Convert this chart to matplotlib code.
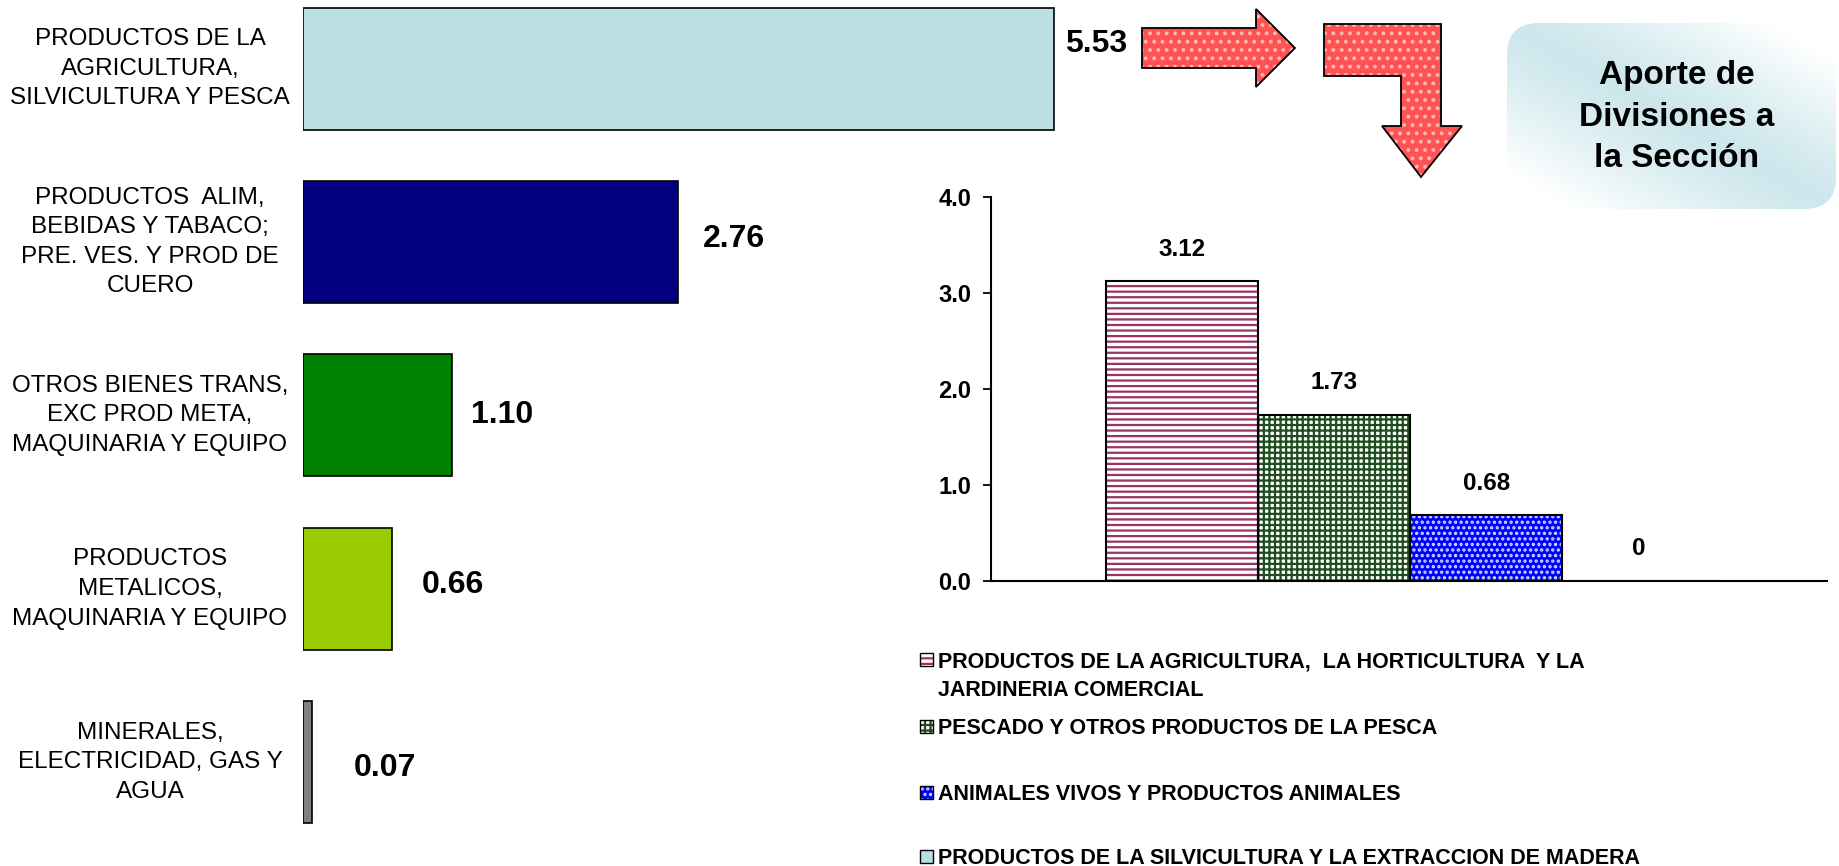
import numpy as np
import matplotlib
matplotlib.use('Agg')
import matplotlib.pyplot as plt
from matplotlib.patches import Polygon, Rectangle, FancyBboxPatch

# ---------------- data ----------------
left_categories = [
    "PRODUCTOS DE LA\nAGRICULTURA,\nSILVICULTURA Y PESCA",
    "PRODUCTOS  ALIM,\nBEBIDAS Y TABACO;\nPRE. VES. Y PROD DE\nCUERO",
    "OTROS BIENES TRANS,\nEXC PROD META,\nMAQUINARIA Y EQUIPO",
    "PRODUCTOS\nMETALICOS,\nMAQUINARIA Y EQUIPO",
    "MINERALES,\nELECTRICIDAD, GAS Y\nAGUA",
]
left_values = [5.53, 2.76, 1.10, 0.66, 0.07]
left_value_labels = ["5.53", "2.76", "1.10", "0.66", "0.07"]

right_categories = [
    "PRODUCTOS DE LA AGRICULTURA,  LA HORTICULTURA  Y LA\nJARDINERIA COMERCIAL",
    "PESCADO Y OTROS PRODUCTOS DE LA PESCA",
    "ANIMALES VIVOS Y PRODUCTOS ANIMALES",
    "PRODUCTOS DE LA SILVICULTURA Y LA EXTRACCION DE MADERA",
]
right_values = [3.12, 1.73, 0.68, 0]
right_value_labels = ["3.12", "1.73", "0.68", "0"]
right_yticks = [0.0, 1.0, 2.0, 3.0, 4.0]
right_ytick_labels = ["0.0", "1.0", "2.0", "3.0", "4.0"]

title_text = "Aporte de\nDivisiones a\nla Sección"

# ---------------- styles ----------------
left_colors = ["#BBE0E3", "#000080", "#008000", "#99CC00", "#808080"]
left_label_dx = [11, 25, 19, 29, 42]      # pixel offsets of value labels
left_label_dy = [25, 3, 0, 4, -6]

right_faces = ["white", "white", "#0000FF", "#BBE0E3"]
right_hatch_colors = ["#993366", "#1E4D1E", "#CCE0FF", "#BBE0E3"]
right_hatches = ["---", "+++", "...", None]

plt.rcParams['font.family'] = ['Liberation Sans', 'DejaVu Sans']
plt.rcParams['hatch.linewidth'] = 1.6

W, H = 1839, 866
fig = plt.figure(figsize=(W / 100, H / 100), dpi=100)
fig.patch.set_facecolor('white')

# ---------------- overlay (decorations) ----------------
ov = fig.add_axes([0, 0, 1, 1], zorder=0)
ov.set_xlim(0, W)
ov.set_ylim(H, 0)
ov.axis('off')

# arrows
right_arrow = [(1142, 28), (1256, 28), (1256, 9), (1295, 48), (1256, 87),
               (1256, 68), (1142, 68)]
bent_arrow = [(1324, 24), (1441, 24), (1441, 126), (1462, 126), (1421, 177),
              (1382, 126), (1401, 126), (1401, 76), (1324, 76)]
for pts in (right_arrow, bent_arrow):
    ov.add_patch(Polygon(pts, closed=True, facecolor='#FF5252',
                         edgecolor='#FFB8B8', hatch='..', linewidth=0))
    ov.add_patch(Polygon(pts, closed=True, fill=False, edgecolor='black',
                         linewidth=1.3))

# rounded gradient box
box = FancyBboxPatch((1507, 23), 329, 186,
                     boxstyle='round,pad=0,rounding_size=32',
                     facecolor='none', edgecolor='none')
ov.add_patch(box)
nx, ny = 200, 120
u = np.linspace(0, 1, nx)[None, :]
v = np.linspace(0, 1, ny)[:, None]
w = np.clip(np.abs(u - v) * 1.25, 0, 1) ** 1.2
edge = np.array([0.80, 0.905, 0.925])
img = w[..., None] * np.ones(3) + (1 - w[..., None]) * edge
im = ov.imshow(img, extent=[1507, 1836, 209, 23], aspect='auto',
               interpolation='bilinear')
im.set_clip_path(box)
ov.set_xlim(0, W)
ov.set_ylim(H, 0)
ov.text(1677, 117, title_text, ha='center', va='center', fontsize=24,
        fontweight='bold', linespacing=1.45, multialignment='center')

# ---------------- left chart ----------------
axL = fig.add_axes([302.6 / W, 1 - 849 / H, (6 * 135.9) / W, 846.3 / H],
                   zorder=2)
axL.patch.set_alpha(0)
yl = np.arange(len(left_values))
axL.barh(yl, left_values, height=0.703, color=left_colors,
         edgecolor='black', linewidth=1.2)
axL.set_xlim(0, 6)
axL.set_ylim(4.5, -0.38)
axL.axis('off')
for yi, lab in zip(yl, left_categories):
    axL.text(-1.123, yi, lab, ha='center', va='center',
             multialignment='center', fontsize=17.5, linespacing=1.45,
             clip_on=False)
for yi, val, t, dx, dy in zip(yl, left_values, left_value_labels,
                              left_label_dx, left_label_dy):
    axL.annotate(t, (val, yi), xytext=(dx, dy), textcoords='offset pixels',
                 ha='left', va='center', fontsize=23, fontweight='bold')

# ---------------- right chart ----------------
axR = fig.add_axes([991 / W, 1 - 580.5 / H, (1827 - 991) / W,
                    (580.5 - 197) / H], zorder=2)
axR.patch.set_alpha(0)
xr = np.arange(len(right_values))
for xi, val, fc, hc, hp in zip(xr, right_values, right_faces,
                               right_hatch_colors, right_hatches):
    axR.bar(xi, val, width=1.0, color=fc, edgecolor=hc, hatch=hp,
            linewidth=0)
axR.bar(xr, right_values, width=1.0, fill=False, edgecolor='black',
        linewidth=1.5)
axR.set_xlim(-1.254, 4.238)
axR.set_ylim(0, 4)
for s in ('top', 'right'):
    axR.spines[s].set_visible(False)
for s in ('left', 'bottom'):
    axR.spines[s].set_linewidth(1.5)
axR.set_xticks([])
axR.set_yticks(right_yticks)
axR.set_yticklabels(right_ytick_labels, fontsize=17, fontweight='bold')
axR.tick_params(axis='y', direction='out', length=5.8, width=1.3, pad=8.5)
for xi, val, t in zip(xr, right_values, right_value_labels):
    axR.annotate(t, (xi, val), xytext=(0, 32), textcoords='offset pixels',
                 ha='center', va='center', fontsize=17.5, fontweight='bold')

# legend (drawn on overlay)
legend_y = [659, 726, 792, 856]
for lab, yc, fc, hc, hp in zip(right_categories, legend_y, right_faces,
                               right_hatch_colors, right_hatches):
    ov.add_patch(Rectangle((920, yc - 6.5), 13, 13, facecolor=fc,
                           edgecolor=hc, hatch=hp, linewidth=0))
    ov.add_patch(Rectangle((920, yc - 6.5), 13, 13, fill=False,
                           edgecolor='black', linewidth=1.0))
    ov.text(938, yc - 7.5, lab, ha='left', va='top', fontsize=15.5,
            fontweight='bold', linespacing=1.45)

fig.savefig('out.png', dpi=100, facecolor='white')
